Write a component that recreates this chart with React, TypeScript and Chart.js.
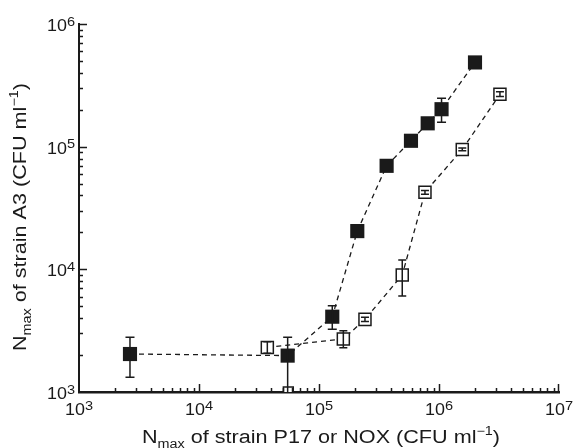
import React, { useEffect, useRef } from 'react';
import { Chart, registerables } from 'chart.js';

Chart.register(...registerables);

// ---- Data ----
const FILLED_X = [2660, 54800, 129000, 208500, 366000, 584000, 805000, 1050000, 1995000];
const FILLED_Y = [2040, 1980, 4110, 20500, 69800, 111700, 155000, 202000, 486000];
const FILLED_LO = [1320, 950, 3250, 20500, 69800, 105000, 155000, 158000, 486000];
const FILLED_HI = [2790, 2790, 5050, 20500, 69800, 118000, 155000, 248000, 486000];

const OPEN_X = [37100, 159500, 241600, 494000, 764000, 1563000, 3220000];
const OPEN_Y = [2310, 2705, 3909, 8990, 42500, 95000, 267000];
const OPEN_LO = [2070, 2300, 3760, 6050, 41000, 92500, 257000];
const OPEN_HI = [2570, 3160, 4060, 11900, 44000, 97500, 280000];

const STRAY_X = [55500];
const STRAY_Y = [1000];

const X_EXPONENTS = [3, 4, 5, 6, 7];
const Y_EXPONENTS = [3, 4, 5, 6];

const X_TITLE = [
  { t: 'N', sub: 0 },
  { t: 'max', sub: 1 },
  { t: ' of strain P17 or NOX (CFU ml', sub: 0 },
  { t: '\u22121', sub: -1 },
  { t: ')', sub: 0 },
];
const Y_TITLE = [
  { t: 'N', sub: 0 },
  { t: 'max', sub: 1 },
  { t: ' of strain A3 (CFU ml', sub: 0 },
  { t: '\u22121', sub: -1 },
  { t: ')', sub: 0 },
];

const INK = '#1a1a1a';
const FONT = '"Liberation Sans", Arial, Helvetica, sans-serif';
const TITLE_STRETCH = 1.2;
const TICK_STRETCH = 1.12;

type Part = { t: string; sub: number };

function drawParts(ctx: CanvasRenderingContext2D, parts: Part[], cx: number, baseline: number, big: number, small: number, stretch: number) {
  const widths = parts.map((p) => {
    ctx.font = `${p.sub === 0 ? big : small}px ${FONT}`;
    return ctx.measureText(p.t).width;
  });
  const total = widths.reduce((a, b) => a + b, 0);
  ctx.save();
  ctx.translate(cx, baseline);
  ctx.scale(stretch, 1);
  let x = -total / 2;
  ctx.textAlign = 'left';
  ctx.textBaseline = 'alphabetic';
  parts.forEach((p, i) => {
    ctx.font = `${p.sub === 0 ? big : small}px ${FONT}`;
    const dy = p.sub === 1 ? big * 0.3 : p.sub === -1 ? -big * 0.42 : 0;
    ctx.fillText(p.t, x, dy);
    x += widths[i];
  });
  ctx.restore();
}

function powerLabel(ctx: CanvasRenderingContext2D, e: number, x: number, baseline: number, align: 'center' | 'right') {
  const big = 16;
  const small = 13;
  ctx.font = `${big}px ${FONT}`;
  const w1 = ctx.measureText('10').width;
  ctx.font = `${small}px ${FONT}`;
  const w2 = ctx.measureText(String(e)).width;
  const total = (w1 + w2) * TICK_STRETCH;
  const start = align === 'center' ? x - total / 2 : x - total;
  ctx.save();
  ctx.translate(start, baseline);
  ctx.scale(TICK_STRETCH, 1);
  ctx.textAlign = 'left';
  ctx.textBaseline = 'alphabetic';
  ctx.font = `${big}px ${FONT}`;
  ctx.fillText('10', 0, 0);
  ctx.font = `${small}px ${FONT}`;
  ctx.fillText(String(e), w1, -5.5);
  ctx.restore();
}

const decorPlugin = {
  id: 'decor',
  afterDatasetsDraw(chart: any) {
    const ctx: CanvasRenderingContext2D = chart.ctx;
    const { left, right, top, bottom } = chart.chartArea;
    const xs = chart.scales.x;
    const ys = chart.scales.y;
    ctx.save();
    ctx.beginPath();
    ctx.rect(left, top - 10, right - left + 10, bottom - top + 10);
    ctx.clip();
    ctx.strokeStyle = INK;
    ctx.lineWidth = 1.5;
    const series = [
      { xv: FILLED_X, lo: FILLED_LO, hi: FILLED_HI, cap: 4.5 },
      { xv: OPEN_X, lo: OPEN_LO, hi: OPEN_HI, cap: 4 },
    ];
    series.forEach((s) => {
      s.xv.forEach((xv, i) => {
        if (s.lo[i] === s.hi[i]) return;
        const px = xs.getPixelForValue(xv);
        const plo = ys.getPixelForValue(s.lo[i]);
        const phi = ys.getPixelForValue(s.hi[i]);
        ctx.beginPath();
        ctx.moveTo(px, plo);
        ctx.lineTo(px, phi);
        ctx.moveTo(px - s.cap, plo);
        ctx.lineTo(px + s.cap, plo);
        ctx.moveTo(px - s.cap, phi);
        ctx.lineTo(px + s.cap, phi);
        ctx.stroke();
      });
    });
    ctx.restore();
  },
  afterDraw(chart: any) {
    const ctx: CanvasRenderingContext2D = chart.ctx;
    const { left, right, top, bottom } = chart.chartArea;
    const xs = chart.scales.x;
    const ys = chart.scales.y;
    ctx.save();
    ctx.strokeStyle = INK;
    ctx.fillStyle = INK;
    ctx.lineWidth = 1.5;
    // ticks (inside)
    for (let e = 3; e < 7; e++) {
      for (let m = 1; m <= 9; m++) {
        if (m === 1 && e === 3) continue;
        const v = m * Math.pow(10, e);
        const px = Math.round(xs.getPixelForValue(v)) + 0.5;
        const len = m === 1 ? 8 : 4;
        ctx.beginPath();
        ctx.moveTo(px, bottom);
        ctx.lineTo(px, bottom - len);
        ctx.stroke();
      }
    }
    {
      const px = Math.round(xs.getPixelForValue(1e7)) - 0.5;
      ctx.beginPath();
      ctx.moveTo(px, bottom);
      ctx.lineTo(px, bottom - 8);
      ctx.stroke();
    }
    for (let e = 3; e <= 6; e++) {
      for (let m = 1; m <= 9; m++) {
        if (e === 6 && m > 1) break;
        if (m === 1 && e === 3) continue;
        const v = m * Math.pow(10, e);
        const py = Math.round(ys.getPixelForValue(v)) + 0.5;
        const len = m === 1 ? 8 : 4;
        ctx.beginPath();
        ctx.moveTo(left, py);
        ctx.lineTo(left + len, py);
        ctx.stroke();
      }
    }
    // tick labels
    X_EXPONENTS.forEach((e) => {
      powerLabel(ctx, e, xs.getPixelForValue(Math.pow(10, e)), bottom + 23, 'center');
    });
    Y_EXPONENTS.forEach((e) => {
      powerLabel(ctx, e, left - 4, ys.getPixelForValue(Math.pow(10, e)) + 7, 'right');
    });
    // titles
    drawParts(ctx, X_TITLE, 321, 443, 18, 12, TITLE_STRETCH);
    ctx.save();
    ctx.translate(26, 217);
    ctx.rotate(-Math.PI / 2);
    drawParts(ctx, Y_TITLE, 0, 0, 18, 12, TITLE_STRETCH);
    ctx.restore();
    ctx.restore();
  },
};

export default function App() {
  const ref = useRef<HTMLCanvasElement | null>(null);
  useEffect(() => {
    if (!ref.current) return;
    const toPts = (xs: number[], ys: number[]) => xs.map((x, i) => ({ x, y: ys[i] }));
    const chart = new Chart(ref.current, {
      type: 'scatter',
      data: {
        datasets: [
          {
            label: 'A3 vs P17',
            data: toPts(FILLED_X, FILLED_Y),
            showLine: true,
            borderColor: INK,
            borderWidth: 1.3,
            borderDash: [5, 4],
            pointStyle: 'rect',
            pointRadius: 10,
            pointBorderWidth: 0,
            pointBackgroundColor: INK,
            pointBorderColor: INK,
            order: 1,
          } as any,
          {
            label: 'A3 vs NOX',
            data: toPts(OPEN_X, OPEN_Y),
            showLine: true,
            borderColor: INK,
            borderWidth: 1.3,
            borderDash: [5, 4],
            pointStyle: 'rect',
            pointRadius: 8.5,
            pointBorderWidth: 1.5,
            pointBackgroundColor: '#ffffff',
            pointBorderColor: INK,
            order: 2,
          } as any,
          {
            label: 'extra',
            data: toPts(STRAY_X, STRAY_Y),
            showLine: false,
            pointStyle: 'rect',
            pointRadius: 7,
            pointBorderWidth: 1.5,
            pointBackgroundColor: '#ffffff',
            pointBorderColor: INK,
            order: 3,
          } as any,
        ],
      },
      options: {
        responsive: false,
        animation: false,
        devicePixelRatio: 1,
        layout: { padding: { top: 24, right: 17, left: 0, bottom: 0 } },
        plugins: { legend: { display: false }, tooltip: { enabled: false } },
        scales: {
          x: {
            type: 'logarithmic',
            min: 1e3,
            max: 1e7,
            ticks: { display: false },
            grid: { display: false },
            border: { display: true, color: INK, width: 2.5 },
            afterFit: (s: any) => {
              s.height = 56;
            },
          },
          y: {
            type: 'logarithmic',
            min: 1e3,
            max: 1e6,
            ticks: { display: false },
            grid: { display: false },
            border: { display: true, color: INK, width: 2 },
            afterFit: (s: any) => {
              s.width = 79;
            },
          },
        },
      },
      plugins: [decorPlugin],
    });
    return () => chart.destroy();
  }, []);
  return (
    <div style={{ position: 'fixed', left: 0, top: 0, width: 576, height: 448, background: '#fff' }}>
      <canvas ref={ref} width={576} height={448} style={{ display: 'block' }} />
    </div>
  );
}
